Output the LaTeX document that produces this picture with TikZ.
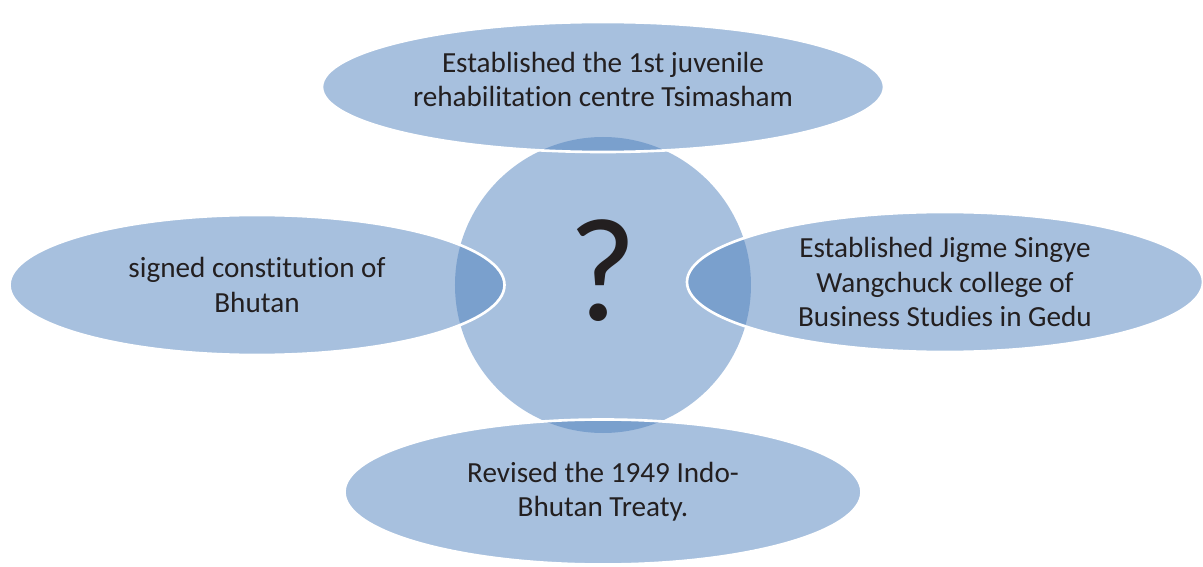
\documentclass[tikz,border=0pt]{standalone}
\usepackage{fontspec}
\setmainfont{Carlito}[Ligatures=NoCommon]
\usetikzlibrary{shapes.geometric}

\definecolor{petal}{HTML}{4F81BD}
\definecolor{ink}{HTML}{231F20}

\begin{document}
\begin{tikzpicture}[
  hub/.style={circle, fill=petal, fill opacity=0.5, text opacity=1,
              minimum size=5.92cm, inner sep=0pt, text=ink},
  blob/.style={ellipse, draw=white, line width=1.5pt, fill=petal,
               fill opacity=0.5, text opacity=1, inner sep=0pt, text=ink,
               align=center, font=\fontsize{16.6}{19.4}\selectfont},
]
  \useasboundingbox (-12.06,-5.64) rectangle (12.00,5.70);

  \node[hub, font=\fontsize{84}{84}\selectfont, text depth=0.6cm] (quiz) at (0,0) {?};

  \node[blob, minimum width=11.24cm, minimum height=2.6cm, text depth=0.32cm] (juvenile) at (0,3.96)
    {Established the 1st juvenile\\rehabilitation centre Tsimasham};
  \node[blob, minimum width=9.9cm, minimum height=2.8cm] (constitution) at (-6.92,0)
    {signed constitution of\\Bhutan};
  \node[blob, minimum width=10.32cm, minimum height=2.8cm] (college) at (6.84,0.06)
    {Established Jigme Singye\\Wangchuck college of\\Business Studies in Gedu};
  \node[blob, minimum width=10.34cm, minimum height=2.9cm] (treaty) at (0,-4.14)
    {Revised the 1949 Indo-\\Bhutan Treaty.};
\end{tikzpicture}
\end{document}
